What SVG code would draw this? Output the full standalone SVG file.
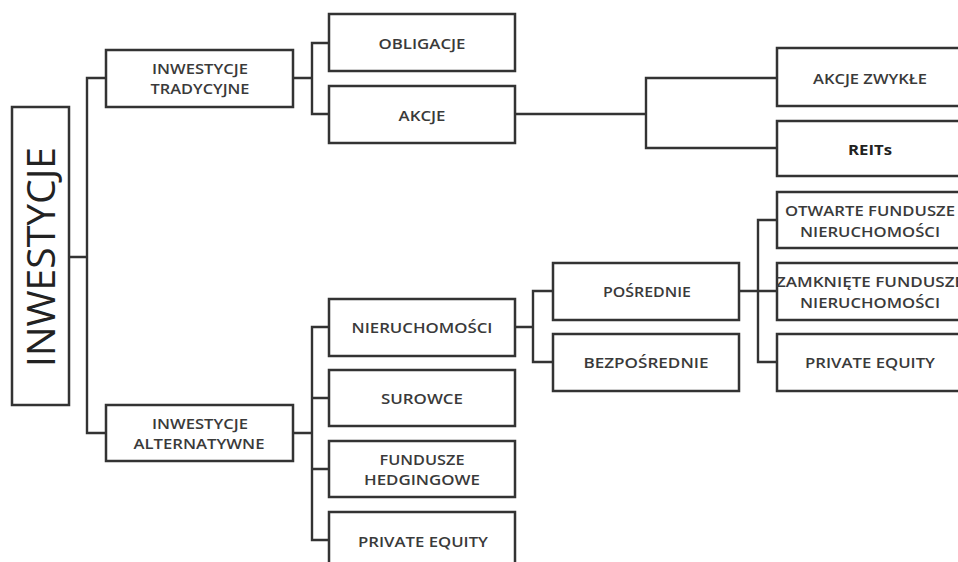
<svg xmlns="http://www.w3.org/2000/svg" width="958" height="562" viewBox="0 0 958 562">
  <style>
    .box { fill: #ffffff; stroke: #333333; stroke-width: 2.5; }
    .wire { fill: none; stroke: #333333; stroke-width: 2.4; stroke-linecap: square; }
    .lbl { font-family: "Open Sans", "Liberation Sans", sans-serif; font-size: 14px; font-weight: 600; fill: #3a3a3a; text-anchor: middle; dominant-baseline: central; }
    .strong { font-weight: 700; fill: #222222; }
    .root { font-family: "Open Sans", "Liberation Sans", sans-serif; font-size: 38px; font-weight: 400; fill: #222222; text-anchor: middle; dominant-baseline: central; }
  </style>
  <rect width="958" height="562" fill="#ffffff"/>

  <!-- connectors -->
  <g id="connectors" class="wire">
    <!-- root trunk -->
    <path d="M69 257 H87 M87 78 V433 M87 78 H106 M87 433 H106"/>
    <!-- traditional investments -->
    <path d="M293 78 H312 M312 43 V114 M312 43 H329 M312 114 H329"/>
    <!-- shares -->
    <path d="M515 114 H646 M646 78 V148 M646 78 H777 M646 148 H777"/>
    <!-- alternative investments -->
    <path d="M293 433 H312 M312 327 V540 M312 327 H329 M312 398 H329 M312 469 H329 M312 540 H329"/>
    <!-- real estate -->
    <path d="M515 327 H533 M533 291 V362 M533 291 H553 M533 362 H553"/>
    <!-- indirect -->
    <path d="M739 291 H758 M758 220 V362 M758 220 H777 M758 291 H777 M758 362 H777"/>
  </g>

  <g id="root">
    <rect class="box" x="12" y="107" width="57" height="298"/>
    <text class="root" transform="translate(40 257) rotate(-90)" textLength="220" lengthAdjust="spacingAndGlyphs">INWESTYCJE</text>
  </g>

  <g id="tradycyjne">
    <rect class="box" x="106" y="50" width="187" height="57"/>
    <text class="lbl" x="200" y="68" textLength="96" lengthAdjust="spacingAndGlyphs">INWESTYCJE</text>
    <text class="lbl" x="200" y="88" textLength="99" lengthAdjust="spacingAndGlyphs">TRADYCYJNE</text>
  </g>

  <g id="alternatywne">
    <rect class="box" x="106" y="405" width="187" height="56"/>
    <text class="lbl" x="200" y="423" textLength="96" lengthAdjust="spacingAndGlyphs">INWESTYCJE</text>
    <text class="lbl" x="199" y="443" textLength="131" lengthAdjust="spacingAndGlyphs">ALTERNATYWNE</text>
  </g>

  <g id="obligacje">
    <rect class="box" x="329" y="14" width="186" height="57"/>
    <text class="lbl" x="422" y="43" textLength="87" lengthAdjust="spacingAndGlyphs">OBLIGACJE</text>
  </g>

  <g id="akcje">
    <rect class="box" x="329" y="86" width="186" height="57"/>
    <text class="lbl" x="422" y="115" textLength="47" lengthAdjust="spacingAndGlyphs">AKCJE</text>
  </g>

  <g id="akcje-zwykle">
    <rect class="box" x="777" y="48" width="186" height="58"/>
    <text class="lbl" x="870" y="78" textLength="114" lengthAdjust="spacingAndGlyphs">AKCJE ZWYKŁE</text>
  </g>

  <g id="reits">
    <rect class="box" x="777" y="121" width="186" height="55"/>
    <text class="lbl strong" x="870" y="149" textLength="44" lengthAdjust="spacingAndGlyphs">REITs</text>
  </g>

  <g id="nieruchomosci">
    <rect class="box" x="329" y="299" width="186" height="57"/>
    <text class="lbl" x="422" y="327" textLength="141" lengthAdjust="spacingAndGlyphs">NIERUCHOMOŚCI</text>
  </g>

  <g id="surowce">
    <rect class="box" x="329" y="370" width="186" height="56"/>
    <text class="lbl" x="422" y="398" textLength="82" lengthAdjust="spacingAndGlyphs">SUROWCE</text>
  </g>

  <g id="fundusze-hedgingowe">
    <rect class="box" x="329" y="441" width="186" height="56"/>
    <text class="lbl" x="422" y="459" textLength="85" lengthAdjust="spacingAndGlyphs">FUNDUSZE</text>
    <text class="lbl" x="422" y="479" textLength="116" lengthAdjust="spacingAndGlyphs">HEDGINGOWE</text>
  </g>

  <g id="private-equity-alt">
    <rect class="box" x="329" y="512" width="186" height="57"/>
    <text class="lbl" x="423" y="541" textLength="130" lengthAdjust="spacingAndGlyphs">PRIVATE EQUITY</text>
  </g>

  <g id="posrednie">
    <rect class="box" x="553" y="263" width="186" height="57"/>
    <text class="lbl" x="647" y="291" textLength="88" lengthAdjust="spacingAndGlyphs">POŚREDNIE</text>
  </g>

  <g id="bezposrednie">
    <rect class="box" x="553" y="334" width="186" height="57"/>
    <text class="lbl" x="646" y="362" textLength="125" lengthAdjust="spacingAndGlyphs">BEZPOŚREDNIE</text>
  </g>

  <g id="otwarte-fundusze">
    <rect class="box" x="777" y="192" width="186" height="56"/>
    <text class="lbl" x="870" y="210" textLength="170" lengthAdjust="spacingAndGlyphs">OTWARTE FUNDUSZE</text>
    <text class="lbl" x="870" y="231" textLength="140" lengthAdjust="spacingAndGlyphs">NIERUCHOMOŚCI</text>
  </g>

  <g id="zamkniete-fundusze">
    <rect class="box" x="777" y="263" width="186" height="57"/>
    <text class="lbl" x="870" y="281" textLength="188" lengthAdjust="spacingAndGlyphs">ZAMKNIĘTE FUNDUSZE</text>
    <text class="lbl" x="870" y="302" textLength="140" lengthAdjust="spacingAndGlyphs">NIERUCHOMOŚCI</text>
  </g>

  <g id="private-equity-nier">
    <rect class="box" x="777" y="334" width="186" height="57"/>
    <text class="lbl" x="870" y="362" textLength="130" lengthAdjust="spacingAndGlyphs">PRIVATE EQUITY</text>
  </g>
</svg>
